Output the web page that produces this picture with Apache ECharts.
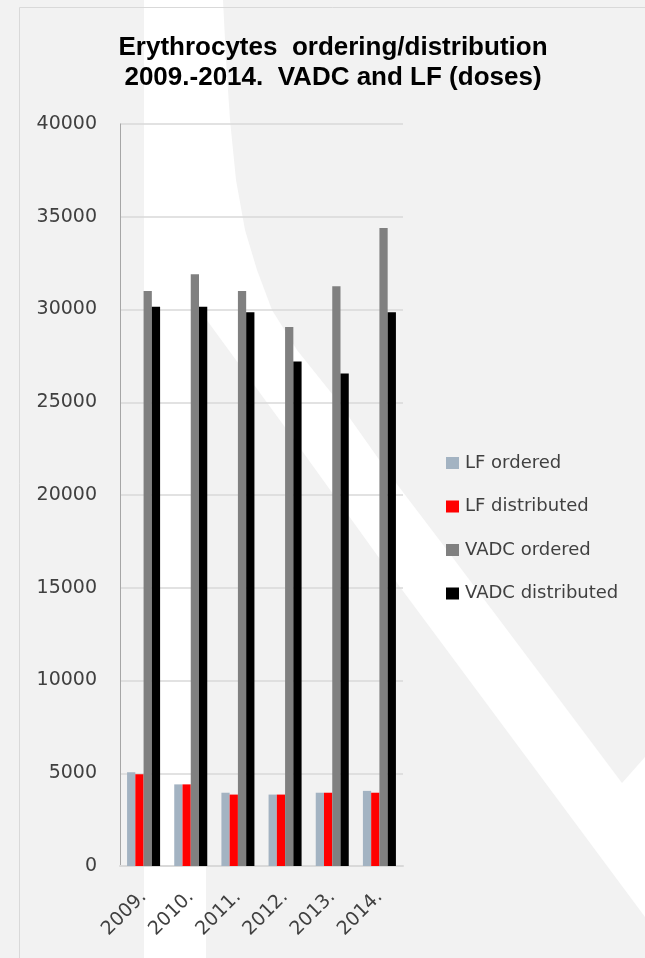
<!DOCTYPE html>
<html>
<head>
<meta charset="utf-8">
<script src="https://cdn.jsdelivr.net/npm/echarts@6/dist/echarts.min.js"></script>
<style>
html,body{margin:0;padding:0;background:#f2f2f2;}
#chart{width:645px;height:958px;}
</style>
</head>
<body>
<div id="chart"></div>
<script>
const categories = ['2009.', '2010.', '2011.', '2012.', '2013.', '2014.'];
const seriesNames = ['LF ordered', 'LF distributed', 'VADC ordered', 'VADC distributed'];
const lfOrdered = [5050, 4400, 3950, 3850, 3950, 4050];
const lfDistributed = [4950, 4400, 3850, 3850, 3950, 3950];
const vadcOrdered = [31000, 31900, 31000, 29050, 31250, 34400];
const vadcDistributed = [30150, 30150, 29850, 27200, 26550, 29850];
const yTicks = {min: 0, max: 40000, interval: 5000};
const titleText = 'Erythrocytes  ordering/distribution\n2009.-2014.  VADC and LF (doses)';

const colors = ['#a3b3c2', '#ff0000', '#808080', '#000000'];
const values = [lfOrdered, lfDistributed, vadcOrdered, vadcDistributed];

const chart = echarts.init(document.getElementById('chart'), null, {renderer: 'canvas'});
const watermark = [
  [144,0],[223,0],[226,60],[230,120],[236,180],[245,230],[257,270],[272,310],[297,350],[337,400],
  [390,475],[447,550],[535,667],[622,783],[645,757],[645,917],[400,587],[287,430],
  [206,319],[206,958],[144,958]
];
chart.setOption({
  animation: false,
  backgroundColor: '#f2f2f2',
  graphic: [
    {type: 'polygon', silent: true, z: -10, shape: {points: watermark}, style: {fill: '#ffffff'}},
    {type: 'rect', silent: true, z: -5, shape: {x: 19.5, y: 7.5, width: 700, height: 1000},
     style: {fill: 'none', stroke: '#d9d9d9', lineWidth: 1}}
  ],
  title: {
    text: titleText,
    left: 328,
    textAlign: 'center',
    top: 28,
    textStyle: {fontFamily: 'Liberation Sans', fontWeight: 'bold', fontSize: 26, lineHeight: 30, color: '#000000'}
  },
  legend: {
    orient: 'vertical',
    left: 441,
    top: 449,
    itemWidth: 13,
    itemHeight: 12,
    itemGap: 25.5,
    icon: 'rect',
    data: seriesNames,
    textStyle: {fontFamily: 'DejaVu Sans', fontSize: 18, color: '#404040', padding: [0,0,0,1]}
  },
  grid: {left: 120, right: 242, top: 124, bottom: 92},
  xAxis: {
    type: 'category',
    data: categories,
    axisLine: {show: true, lineStyle: {color: '#d9d9d9', width: 2}},
    axisTick: {show: false},
    axisLabel: {rotate: 45, fontFamily: 'DejaVu Sans', fontSize: 19, color: '#404040', margin: 28, interval: 0}
  },
  yAxis: {
    type: 'value',
    min: yTicks.min, max: yTicks.max, interval: yTicks.interval,
    axisLine: {show: true, lineStyle: {color: '#a6a6a6', width: 1}},
    axisTick: {show: false},
    splitLine: {lineStyle: {color: '#d9d9d9', width: 1.5}},
    axisLabel: {fontFamily: 'DejaVu Sans', fontSize: 19, color: '#404040', margin: 23,
      formatter: v => String(v)}
  },
  series: seriesNames.map((name, i) => ({
    name: name,
    type: 'bar',
    data: values[i],
    barGap: '0%',
    barCategoryGap: '30%',
    itemStyle: {color: colors[i]}
  }))
});
</script>
</body>
</html>
